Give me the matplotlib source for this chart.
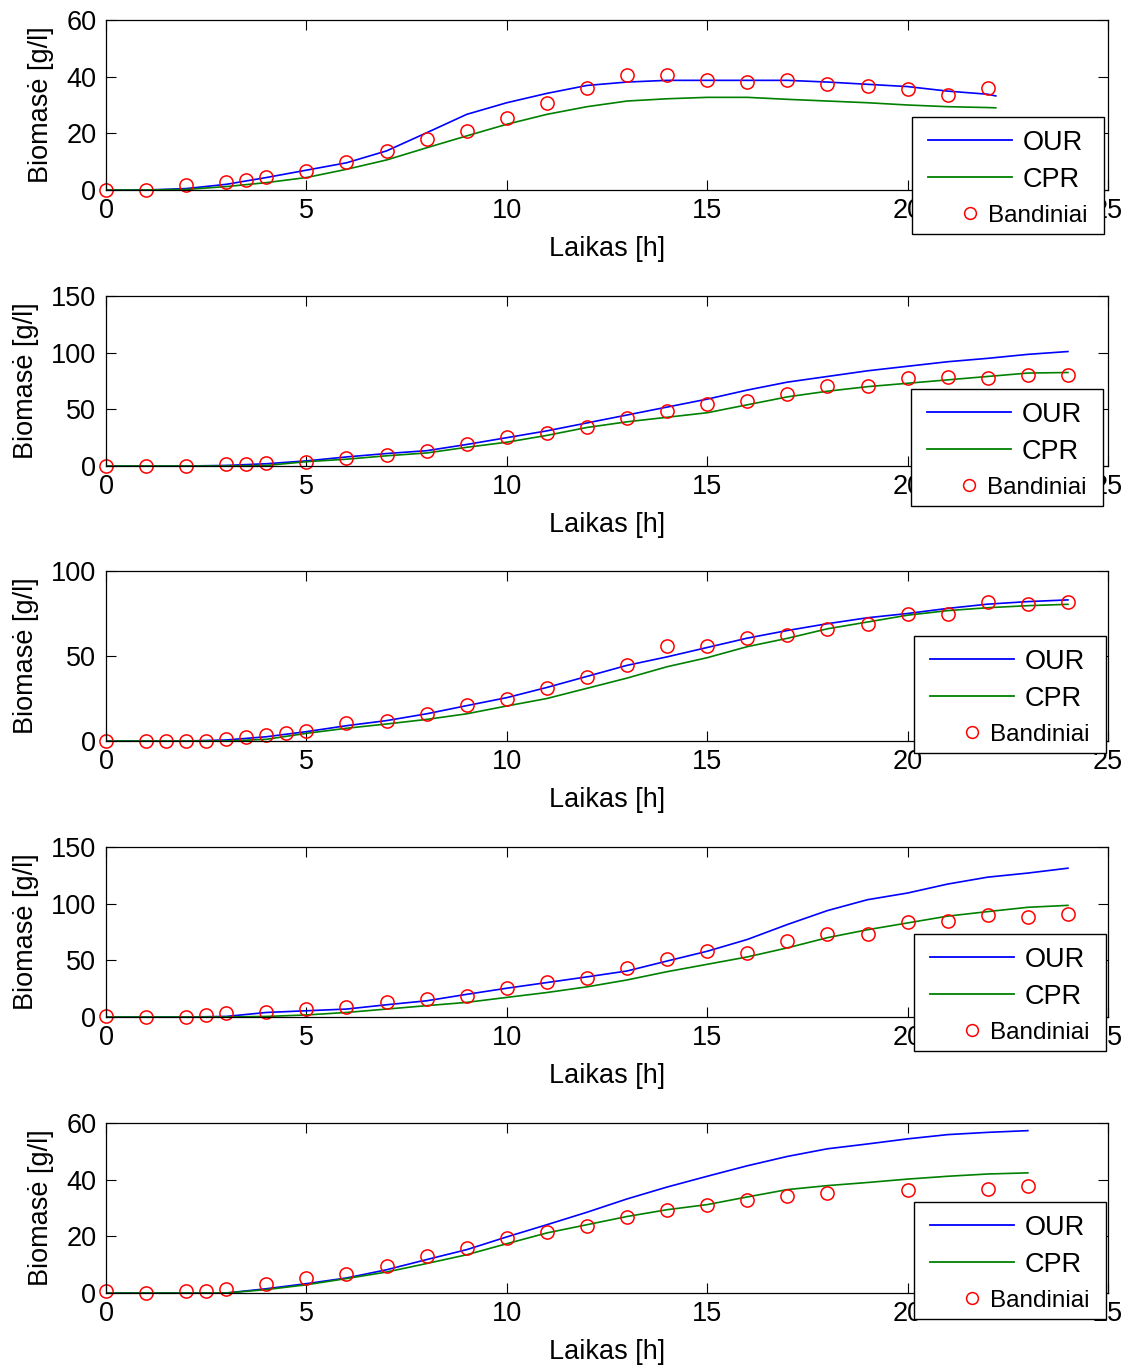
import matplotlib.pyplot as plt
from matplotlib.patches import Rectangle
from matplotlib.lines import Line2D

plt.rcParams['font.family'] = ['Liberation Sans', 'DejaVu Sans']
plt.rcParams['font.size'] = 19.5

# panel 1
t_line_1 = [0, 1, 2, 3, 4, 5, 6, 7, 8, 9, 10, 11, 12, 13, 14, 15, 16, 17, 18, 19, 20, 21, 22, 22.2]
our_1 = [0, 0, 0.5, 2, 4.4, 7, 9.6, 13.8, 20.2, 26.7, 30.8, 34.1, 36.9, 38.1, 38.7, 38.7, 38.7, 38.7,
         38.1, 37.3, 36.5, 34.9, 33.8, 33.2]
cpr_1 = [0, 0, 0.2, 1.2, 2.6, 4.4, 7.3, 10.6, 14.9, 19.1, 23.2, 26.7, 29.4, 31.4, 32.2, 32.7, 32.7, 32,
         31.4, 30.8, 30, 29.4, 29.1, 29]
t_s_1 = [0, 1, 2, 3, 3.5, 4, 5, 6, 7, 8, 9, 10, 11, 12, 13, 14, 15, 16, 17, 18, 19, 20, 21, 22]
s_1 = [0, 0, 1.8, 2.9, 3.4, 4.7, 6.7, 10, 13.8, 17.9, 21, 25.5, 30.8, 36.1, 40.5, 40.5, 39, 38.1,
       38.7, 37.3, 36.7, 35.8, 33.5, 36.1]

# panel 2
t_line_2 = list(range(25))
our_2 = [0, 0, 0, 0.5, 2, 4.5, 8, 11, 13.5, 19, 25, 31, 38, 45, 52, 59, 67, 74, 79, 84, 88, 92, 95,
         98.5, 101]
cpr_2 = [0, 0, 0, 0, 0.5, 3.8, 6, 9, 11.5, 16.5, 21, 27, 34, 39, 43, 47, 54, 61, 66, 70, 73, 76, 79,
         82, 82.5]
t_s_2 = [0, 1, 2, 3, 3.5, 4] + list(range(5, 25))
s_2 = [0, 0, 0, 1.5, 1.5, 3, 3.5, 7, 10, 13, 19, 25.5, 29, 34.5, 42, 48.5, 54.5, 57.5, 63.5, 70.5,
       70.5, 77.5, 78.5, 77.5, 80, 80]

# panel 3
t_line_3 = list(range(25))
our_3 = [0, 0, 0, 0.6, 2.5, 5.5, 9, 12, 16, 20.8, 25.5, 31.5, 38, 44.5, 49.5, 55, 60.5, 65, 69, 72.5,
         75, 78, 80.5, 82, 83]
cpr_3 = [0, 0, 0, 0, 1, 4.5, 7.5, 10, 12.7, 16, 20.6, 25, 31, 37, 43.7, 49, 55.5, 60.4, 66, 70, 74,
         76.7, 78.4, 79.6, 80.4]
t_s_3 = [0, 1, 1.5, 2, 2.5, 3, 3.5, 4, 4.5, 5] + list(range(6, 25))
s_3 = [0, 0, 0, 0, 0, 1.2, 2.5, 3.5, 4.7, 6, 10.5, 12, 16, 21, 25, 31, 37.5, 45, 56, 56, 60.5, 62.5,
       66, 69, 74.5, 75, 81.5, 80.5, 81.5]

# panel 4
t_line_4 = list(range(25))
our_4 = [0, 0, 0, 0.5, 4, 5.5, 7, 10.8, 14.3, 20, 25.4, 30.4, 35.4, 40.6, 49.4, 58, 68.4, 81.6, 93.9,
         103.5, 109.4, 117.3, 123.4, 127, 131.3]
cpr_4 = [0, 0, 0, 0, 0.5, 1.8, 4, 7, 10, 12.9, 17.3, 21.6, 26.6, 32.7, 40, 46.5, 53, 61, 70, 77, 83,
         89, 93, 96.8, 98.5]
t_s_4 = [0, 1, 2, 2.5, 3, 4] + list(range(5, 25))
s_4 = [0.5, 0, 0, 1.5, 3.5, 4, 7.5, 8.5, 13.5, 16, 18.7, 25.4, 31, 34, 43, 51, 58, 56.7, 67, 73.4,
       73.4, 84, 85, 89.8, 88.3, 91]

# panel 5
t_line_5 = list(range(24))
our_5 = [0, 0, 0, 0, 1.5, 3.3, 5.3, 8.2, 11.8, 15.3, 19.8, 24.1, 28.5, 33.2, 37.4, 41.2, 44.9, 48.2,
         50.9, 52.6, 54.4, 55.9, 56.7, 57.3]
cpr_5 = [0, 0, 0, 0, 1.2, 2.9, 5.1, 7.4, 10.4, 13.5, 17.4, 21.2, 24.1, 27, 29.4, 31.2, 33.9, 36.5,
         37.9, 39, 40.2, 41.2, 42, 42.4]
t_s_5 = [0, 1, 2, 2.5, 3, 4] + list(range(5, 19)) + [20, 22, 23]
s_5 = [0.6, 0, 0.8, 0.8, 1.5, 3.3, 5.3, 6.8, 9.4, 12.9, 15.9, 19.4, 21.5, 23.8, 27, 29.4, 31.2, 32.9,
       34.4, 35.3, 36.5, 36.8, 37.9]

y_max = [60, 150, 100, 150, 60]
y_step = [20, 50, 50, 50, 20]

panels = [
    (t_line_1, our_1, cpr_1, t_s_1, s_1),
    (t_line_2, our_2, cpr_2, t_s_2, s_2),
    (t_line_3, our_3, cpr_3, t_s_3, s_3),
    (t_line_4, our_4, cpr_4, t_s_4, s_4),
    (t_line_5, our_5, cpr_5, t_s_5, s_5),
]

BLUE, GREEN, RED = '#0000ff', '#008000', '#ff0000'

W, H = 1134, 1370
ax_top = [20, 296, 571, 847, 1123]       # pixel top of each axes
ax_h = 170
leg_pos = [(912, 117), (911, 389), (914, 636), (914, 934), (914, 1202)]


def px(x, y):
    return x / W, 1 - y / H


def draw_legend(fig, lx, ly):
    # MATLAB-style legend box, drawn in figure pixels
    fig.add_artist(Rectangle(px(lx, ly + 117), 192 / W, 117 / H, facecolor='white',
                             edgecolor='black', lw=1.0, zorder=5))
    for yy, c in [(ly + 23, BLUE), (ly + 60, GREEN)]:
        x0, y0 = px(lx + 16, yy)
        x1, _ = px(lx + 100, yy)
        fig.add_artist(Line2D([x0, x1], [y0, y0], color=c, lw=1.3, zorder=6))
    mx, my = px(lx + 58, ly + 96)
    fig.add_artist(Line2D([mx], [my], marker='o', ls='none', mfc='none', mec=RED, ms=8.5,
                          mew=1.1, zorder=6))
    for (tx, ty), s, fs in [((lx + 111, ly + 33), 'OUR', 19.5), ((lx + 111, ly + 70), 'CPR', 19.5),
                            ((lx + 76, ly + 105), 'Bandiniai', 17.5)]:
        fx, fy = px(tx, ty)
        fig.text(fx, fy, s, ha='left', va='baseline', fontsize=fs, zorder=7)


fig = plt.figure(figsize=(W / 100, H / 100), dpi=100)

for i, (tl, our, cpr, ts, s) in enumerate(panels):
    ax = fig.add_axes([106 / W, 1 - (ax_top[i] + ax_h) / H, 1002 / W, ax_h / H])
    ax.plot(tl, our, color=BLUE, lw=1.2)
    ax.plot(tl, cpr, color=GREEN, lw=1.2)
    ax.plot(ts, s, 'o', mfc='none', mec=RED, ms=9.5, mew=1.1, clip_on=False)
    ax.set_xlim(0, 25)
    ax.set_ylim(0, y_max[i])
    ax.set_xticks(range(0, 26, 5))
    ax.set_yticks(range(0, y_max[i] + 1, y_step[i]))
    ax.tick_params(direction='in', top=True, right=True, length=7, width=0.8, labelsize=19.5)
    ax.tick_params(axis='x', pad=5.5)
    ax.tick_params(axis='y', pad=7)
    for sp in ax.spines.values():
        sp.set_linewidth(0.9)
    ax.set_xlabel('Laikas [h]', fontsize=19.5, labelpad=9)
    ax.set_ylabel('Biomasė [g/l]', fontsize=19.5, labelpad=9)
    draw_legend(fig, *leg_pos[i])

plt.savefig('out.png', dpi=100)
